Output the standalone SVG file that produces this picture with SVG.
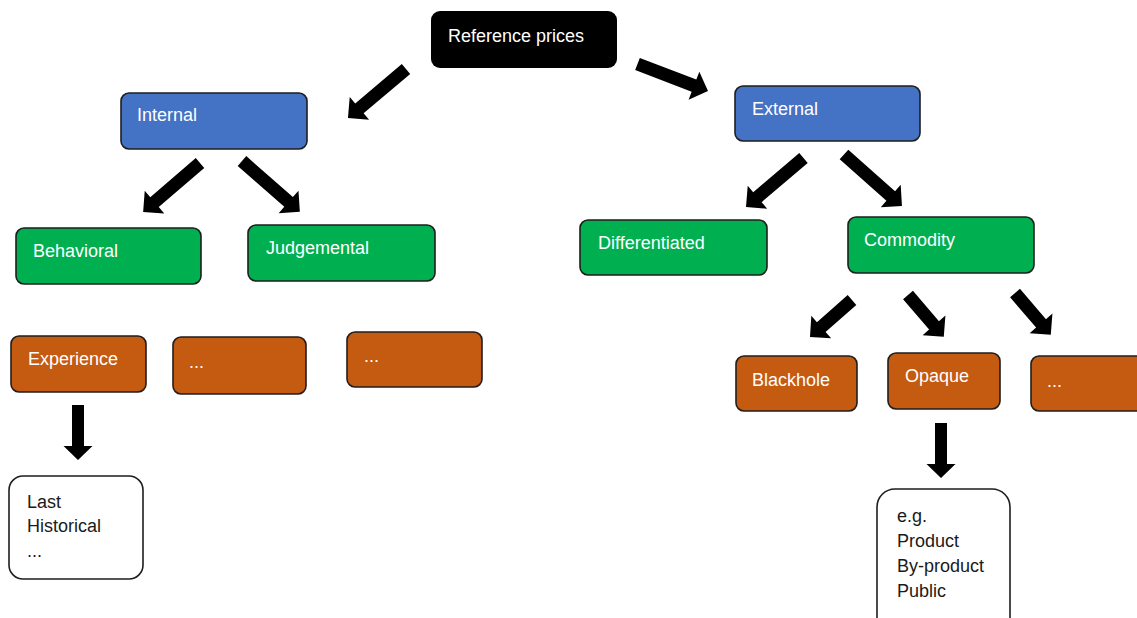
<svg xmlns="http://www.w3.org/2000/svg" width="1137" height="618" viewBox="0 0 1137 618">
  <style>
    .box { stroke: #1e1e1e; stroke-width: 1.6; }
    .root { fill: #000000; }
    .blue { fill: #4472C4; }
    .green { fill: #00B050; }
    .orange { fill: #C55A11; }
    .note { fill: #ffffff; stroke: #1e1e1e; stroke-width: 1.6; }
    .lbl { font-family: "Liberation Sans", Arial, sans-serif; font-size: 18px; fill: #ffffff; }
    .dark { fill: #1a1a1a; }
    .arrow { fill: #000000; }
  </style>
  <rect width="1137" height="618" fill="#ffffff"/>

  <!-- block arrows: each is drawn along +x from its tail, then placed and turned -->
  <g id="connectors">
    <path class="arrow" transform="translate(406,69) rotate(139.8)" d="M0,-6.5 H61 V-15 L76,0 L61,15 V6.5 H0 Z"/>
    <path class="arrow" transform="translate(637.5,64) rotate(21)" d="M0,-6.5 H60.5 V-15 L75.5,0 L60.5,15 V6.5 H0 Z"/>
    <path class="arrow" transform="translate(200,163) rotate(139.3)" d="M0,-6.5 H60 V-15 L75,0 L60,15 V6.5 H0 Z"/>
    <path class="arrow" transform="translate(242,161) rotate(41.3)" d="M0,-6.5 H62 V-15 L77,0 L62,15 V6.5 H0 Z"/>
    <path class="arrow" transform="translate(803.5,158) rotate(139.6)" d="M0,-6.5 H60.5 V-15 L75.5,0 L60.5,15 V6.5 H0 Z"/>
    <path class="arrow" transform="translate(844,154.5) rotate(41.6)" d="M0,-6.5 H62.5 V-15 L77.5,0 L62.5,15 V6.5 H0 Z"/>
    <path class="arrow" transform="translate(852,300) rotate(138.6)" d="M0,-6.5 H41 V-15 L56,0 L41,15 V6.5 H0 Z"/>
    <path class="arrow" transform="translate(908,295) rotate(49.4)" d="M0,-6.5 H40 V-15 L55,0 L40,15 V6.5 H0 Z"/>
    <path class="arrow" transform="translate(1015,293) rotate(49.4)" d="M0,-6.5 H40 V-15 L55,0 L40,15 V6.5 H0 Z"/>
    <path class="arrow" transform="translate(78,405) rotate(90)" d="M0,-6 H41 V-14.5 L55,0 L41,14.5 V6 H0 Z"/>
    <path class="arrow" transform="translate(941,423) rotate(90)" d="M0,-6 H41 V-14.5 L55,0 L41,14.5 V6 H0 Z"/>
  </g>

  <g id="reference-prices">
    <rect class="root" x="431" y="11" width="186" height="57" rx="9"/>
    <text class="lbl" x="448" y="42">Reference prices</text>
  </g>

  <g id="internal">
    <rect class="box blue" x="121" y="93" width="186" height="56" rx="8"/>
    <text class="lbl" x="137" y="121">Internal</text>
  </g>
  <g id="external">
    <rect class="box blue" x="735" y="86" width="185" height="55" rx="8"/>
    <text class="lbl" x="752" y="115">External</text>
  </g>

  <g id="behavioral">
    <rect class="box green" x="16" y="228" width="185" height="56" rx="8"/>
    <text class="lbl" x="33" y="257">Behavioral</text>
  </g>
  <g id="judgemental">
    <rect class="box green" x="248" y="225" width="187" height="56" rx="8"/>
    <text class="lbl" x="266" y="254">Judgemental</text>
  </g>
  <g id="differentiated">
    <rect class="box green" x="580" y="220" width="187" height="55" rx="8"/>
    <text class="lbl" x="598" y="249">Differentiated</text>
  </g>
  <g id="commodity">
    <rect class="box green" x="848" y="217" width="186" height="56" rx="8"/>
    <text class="lbl" x="864" y="246">Commodity</text>
  </g>

  <g id="experience">
    <rect class="box orange" x="11" y="336" width="135" height="56" rx="8"/>
    <text class="lbl" x="28" y="365">Experience</text>
  </g>
  <g id="internal-more-1">
    <rect class="box orange" x="173" y="337" width="133" height="57" rx="8"/>
    <text class="lbl" x="189" y="368">...</text>
  </g>
  <g id="internal-more-2">
    <rect class="box orange" x="347" y="332" width="135" height="55" rx="8"/>
    <text class="lbl" x="364" y="362">...</text>
  </g>

  <g id="blackhole">
    <rect class="box orange" x="736" y="356" width="121" height="55" rx="8"/>
    <text class="lbl" x="752" y="386">Blackhole</text>
  </g>
  <g id="opaque">
    <rect class="box orange" x="888" y="353" width="112" height="56" rx="8"/>
    <text class="lbl" x="905" y="382">Opaque</text>
  </g>
  <g id="commodity-more">
    <rect class="box orange" x="1031" y="356" width="120" height="55" rx="8"/>
    <text class="lbl" x="1047" y="387">...</text>
  </g>

  <g id="experience-examples">
    <rect class="note" x="9" y="476" width="134" height="103" rx="14"/>
    <text class="lbl dark" x="27" y="508">Last</text>
    <text class="lbl dark" x="27" y="532">Historical</text>
    <text class="lbl dark" x="27" y="557">...</text>
  </g>

  <g id="opaque-examples">
    <rect class="note" x="877" y="489" width="133" height="150" rx="18"/>
    <text class="lbl dark" x="897" y="522">e.g.</text>
    <text class="lbl dark" x="897" y="547">Product</text>
    <text class="lbl dark" x="897" y="572">By-product</text>
    <text class="lbl dark" x="897" y="597">Public</text>
  </g>
</svg>
